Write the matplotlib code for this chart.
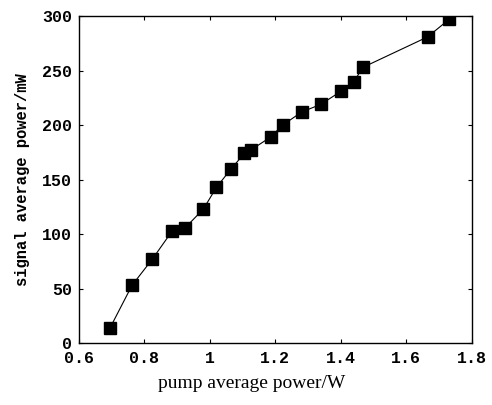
import matplotlib
matplotlib.use("Agg")
import matplotlib.pyplot as plt

# pump average power (W) vs signal average power (mW)
pump_power = [0.695, 0.762, 0.824, 0.885, 0.925, 0.98, 1.02, 1.065, 1.105, 1.124,
              1.185, 1.222, 1.28, 1.338, 1.40, 1.44, 1.467, 1.665, 1.73]
signal_power = [14, 53, 77, 103, 106, 123, 143, 160, 174, 177,
                189, 200, 212, 219, 231, 240, 253, 281, 297]

x_ticks = [0.6, 0.8, 1.0, 1.2, 1.4, 1.6, 1.8]
x_tick_labels = ["0.6", "0.8", "1", "1.2", "1.4", "1.6", "1.8"]
y_ticks = [0, 50, 100, 150, 200, 250, 300]

fig = plt.figure(figsize=(4.92, 4.05), dpi=100)
ax = fig.add_axes([0.1606, 0.153, 0.7984, 0.807])

ax.plot(pump_power, signal_power, color="black", lw=0.8,
        marker="s", markersize=8.5, markerfacecolor="black", markeredgecolor="black")

ax.set_xlim(0.6, 1.8)
ax.set_ylim(0, 300)
ax.set_xticks(x_ticks)
ax.set_xticklabels(x_tick_labels)
ax.set_yticks(y_ticks)

ax.tick_params(direction="in", top=True, right=True, length=3, width=0.8)
ax.tick_params(axis="x", pad=6)
ax.tick_params(axis="y", pad=5)
for lab in ax.get_xticklabels() + ax.get_yticklabels():
    lab.set_fontfamily("Liberation Mono")
    lab.set_fontweight("bold")
    lab.set_fontsize(12)

for s in ax.spines.values():
    s.set_linewidth(1.0)

ax.set_xlabel("pump average power/W", fontfamily="Liberation Serif", fontsize=14)
ax.xaxis.set_label_coords(0.44, -0.098)
ax.set_ylabel("signal average power/mW", fontfamily="Liberation Mono", fontweight="bold",
              fontsize=11.2, labelpad=9)

fig.savefig("out.png", dpi=100)
